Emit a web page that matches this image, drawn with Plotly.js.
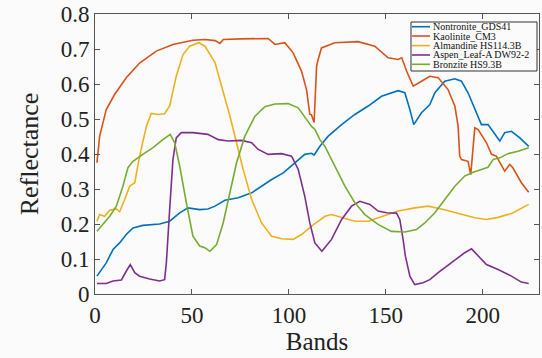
<!DOCTYPE html>
<html>
<head>
<meta charset="utf-8">
<script src="https://cdn.plot.ly/plotly-3.0.1.min.js"></script>
<style>
html,body{margin:0;padding:0;background:#fbfbfb;}
#chart{width:542px;height:358px;}
</style>
</head>
<body>
<div id="chart"></div>
<script>
// Series names
var seriesNames = ["Nontronite_GDS41", "Kaolinite_CM3", "Almandine HS114.3B", "Aspen_Leaf-A DW92-2", "Bronzite HS9.3B"];
var seriesColors = ["#0072BD", "#D95319", "#EDB120", "#7E2F8E", "#77AC30"];

// Nontronite_GDS41
var nontroniteBands = [1, 5.8, 9.3, 12.7, 16.1, 19.6, 24.7, 33.3, 38.5, 43.7, 47.9, 54, 58.2, 61.9, 67, 73.9, 80.8, 85.9, 91.1, 97.1, 103.1, 108.2, 111.7, 113, 116, 120.3, 127.2, 134, 140.9, 147.8, 156.3, 159.8, 162.4, 164.4, 168.4, 172.7, 175.3, 180.4, 185.6, 189, 192.4, 196.7, 199.3, 202.7, 208.8, 211.3, 214.8, 219.1, 223.7];
var nontroniteValues = [0.051, 0.089, 0.127, 0.146, 0.17, 0.189, 0.196, 0.2, 0.208, 0.232, 0.246, 0.241, 0.243, 0.251, 0.268, 0.275, 0.289, 0.308, 0.327, 0.346, 0.375, 0.399, 0.402, 0.397, 0.422, 0.451, 0.484, 0.513, 0.537, 0.565, 0.581, 0.575, 0.527, 0.484, 0.518, 0.541, 0.575, 0.608, 0.615, 0.608, 0.575, 0.518, 0.484, 0.484, 0.437, 0.461, 0.465, 0.446, 0.422];

// Kaolinite_CM3
var kaoliniteBands = [1, 2.4, 5.8, 10.1, 16.1, 23, 31.6, 40.2, 50.5, 56.7, 62, 64.4, 66.2, 75, 89.3, 92.8, 97.9, 102.2, 106.5, 109.1, 110.8, 111.6, 113, 114.3, 115.1, 116.8, 123.7, 135.7, 144.3, 151.2, 156.3, 158.2, 160.7, 164.1, 168.4, 172.7, 177, 182.1, 185.6, 187.3, 188.1, 189, 192.4, 193.8, 195.9, 197.6, 201.9, 204.5, 207, 211.3, 213.9, 215.6, 219.9, 223.7];
var kaoliniteValues = [0.375, 0.451, 0.527, 0.570, 0.618, 0.66, 0.694, 0.713, 0.725, 0.727, 0.724, 0.716, 0.727, 0.729, 0.73, 0.713, 0.718, 0.689, 0.637, 0.584, 0.513, 0.512, 0.49, 0.651, 0.67, 0.703, 0.718, 0.721, 0.708, 0.675, 0.67, 0.675, 0.637, 0.594, 0.608, 0.622, 0.618, 0.584, 0.537, 0.479, 0.394, 0.384, 0.379, 0.341, 0.475, 0.47, 0.432, 0.399, 0.394, 0.351, 0.37, 0.36, 0.318, 0.291];

// Almandine HS114.3B
var almandineBands = [1, 2.4, 5, 7.6, 11, 12.7, 15.3, 17.9, 20.5, 23, 26.5, 29, 32.5, 35.9, 38.5, 41.9, 45.4, 48.8, 53.6, 56.7, 61.9, 65.3, 69.6, 73, 76.4, 80.8, 85.9, 91.1, 96.2, 102.2, 106.5, 111.7, 116, 118.6, 122, 127.2, 134, 140.9, 147.8, 156.3, 165, 171.8, 178.7, 187.3, 195.9, 201.9, 207.9, 214.8, 223.7];
var almandineValues = [0.208, 0.227, 0.222, 0.239, 0.243, 0.235, 0.27, 0.308, 0.318, 0.394, 0.479, 0.516, 0.513, 0.515, 0.537, 0.622, 0.684, 0.708, 0.718, 0.708, 0.661, 0.594, 0.508, 0.432, 0.356, 0.27, 0.203, 0.165, 0.158, 0.156, 0.17, 0.194, 0.213, 0.222, 0.227, 0.218, 0.208, 0.208, 0.222, 0.237, 0.246, 0.251, 0.243, 0.23, 0.218, 0.213, 0.219, 0.23, 0.256];

// Aspen_Leaf-A DW92-2
var aspenBands = [1, 5.8, 9.3, 13.6, 16.1, 18.2, 20.5, 23, 28.2, 33.3, 35.9, 36.8, 38.5, 40.2, 41.9, 44.5, 50.5, 58.2, 63.6, 68.7, 75.6, 80.8, 84.2, 89.3, 96.2, 101.4, 104.8, 108.2, 110.8, 113.4, 117, 122, 127.2, 132.3, 136.6, 141.8, 146, 150.4, 155.5, 157.2, 158.9, 160.1, 162.4, 164.9, 169.2, 172.7, 177, 183.9, 190.7, 194.2, 197.6, 201.9, 207.9, 214.8, 219.9, 223.7];
var aspenValues = [0.03, 0.03, 0.037, 0.04, 0.065, 0.084, 0.061, 0.051, 0.043, 0.037, 0.041, 0.089, 0.241, 0.384, 0.446, 0.461, 0.461, 0.456, 0.441, 0.437, 0.439, 0.432, 0.413, 0.399, 0.401, 0.394, 0.356, 0.279, 0.203, 0.146, 0.122, 0.156, 0.213, 0.251, 0.265, 0.256, 0.237, 0.232, 0.231, 0.213, 0.156, 0.108, 0.051, 0.027, 0.032, 0.041, 0.061, 0.089, 0.118, 0.129, 0.108, 0.084, 0.07, 0.051, 0.034, 0.03];

// Bronzite HS9.3B
var bronziteBands = [1, 4.1, 7.6, 11, 14.4, 17, 19.6, 24.7, 29.9, 35, 38.8, 41.1, 43.7, 47.1, 50.5, 54, 56.7, 59.3, 62.7, 66.1, 69.6, 73, 77.3, 82.5, 87.6, 92.8, 99.6, 104.8, 109.1, 111.7, 113.4, 116, 118.6, 123.7, 128.9, 134, 139.2, 146, 152.9, 159.8, 165.8, 170.1, 175.3, 180.4, 185.6, 190.7, 195, 199.3, 202.7, 205.3, 208.8, 213, 218.2, 223.7];
var bronziteValues = [0.179, 0.199, 0.222, 0.251, 0.308, 0.361, 0.379, 0.399, 0.418, 0.441, 0.456, 0.432, 0.365, 0.261, 0.165, 0.137, 0.132, 0.122, 0.141, 0.203, 0.289, 0.375, 0.451, 0.508, 0.535, 0.543, 0.544, 0.532, 0.499, 0.479, 0.47, 0.441, 0.422, 0.365, 0.308, 0.261, 0.227, 0.199, 0.179, 0.177, 0.184, 0.203, 0.232, 0.27, 0.308, 0.337, 0.348, 0.356, 0.362, 0.384, 0.389, 0.401, 0.408, 0.418];

// Tick labels
var xTickVals = [0, 50, 100, 150, 200];
var yTickVals = [0, 0.1, 0.2, 0.3, 0.4, 0.5, 0.6, 0.7, 0.8];
var yTickText = ["0", "0.1", "0.2", "0.3", "0.4", "0.5", "0.6", "0.7", "0.8"];

var allBands = [nontroniteBands, kaoliniteBands, almandineBands, aspenBands, bronziteBands];
var allValues = [nontroniteValues, kaoliniteValues, almandineValues, aspenValues, bronziteValues];

var traces = seriesNames.map(function (name, i) {
  return {
    type: 'scatter', mode: 'lines', name: name,
    x: allBands[i], y: allValues[i],
    line: {color: seriesColors[i], width: 1.6},
    showlegend: false
  };
});

// Hand-built legend (compact, like the original)
var FONT = 'Liberation Serif, serif';
var lgLeft = 0.7117, lgRight = 0.9955, lgTop = 0.9714, lgBottom = 0.7964;
var rowY = [0.9546, 0.9214, 0.8871, 0.8536, 0.8204];
var shapes = [{
  type: 'rect', xref: 'paper', yref: 'paper',
  x0: lgLeft, x1: lgRight, y0: lgBottom, y1: lgTop,
  line: {color: '#333', width: 1}, fillcolor: '#fbfbfb'
}];
var annotations = [];
seriesNames.forEach(function (name, i) {
  shapes.push({
    type: 'line', xref: 'paper', yref: 'paper',
    x0: 0.714, x1: 0.7545, y0: rowY[i], y1: rowY[i],
    line: {color: seriesColors[i], width: 1.6}
  });
  annotations.push({
    xref: 'paper', yref: 'paper', x: 0.756, y: rowY[i],
    xanchor: 'left', yanchor: 'middle', showarrow: false,
    text: name, font: {family: FONT, size: 10, color: '#111'}
  });
});

var layout = {
  width: 542, height: 358,
  margin: {l: 95, r: 3, t: 14, b: 64},
  paper_bgcolor: '#fbfbfb', plot_bgcolor: '#fbfbfb',
  font: {family: FONT, color: '#222'},
  xaxis: {
    range: [0, 229], tickvals: xTickVals, ticks: 'inside', ticklen: 5,
    tickcolor: '#555', showline: true, linecolor: '#555', linewidth: 1,
    mirror: 'ticks', showgrid: false, zeroline: false,
    tickfont: {family: FONT, size: 23, color: '#222'},
    title: {text: 'Bands', font: {family: FONT, size: 25, color: '#222'}, standoff: 4}
  },
  yaxis: {
    range: [0, 0.8], tickvals: yTickVals, ticktext: yTickText, ticks: 'inside', ticklen: 5,
    tickcolor: '#555', showline: true, linecolor: '#555', linewidth: 1,
    mirror: 'ticks', showgrid: false, zeroline: false,
    tickfont: {family: FONT, size: 23, color: '#222'},
    title: {text: 'Reflectance', font: {family: FONT, size: 26, color: '#222'}, standoff: 14}
  },
  shapes: shapes,
  annotations: annotations
};

Plotly.newPlot('chart', traces, layout, {displayModeBar: false, staticPlot: true});
</script>
</body>
</html>
